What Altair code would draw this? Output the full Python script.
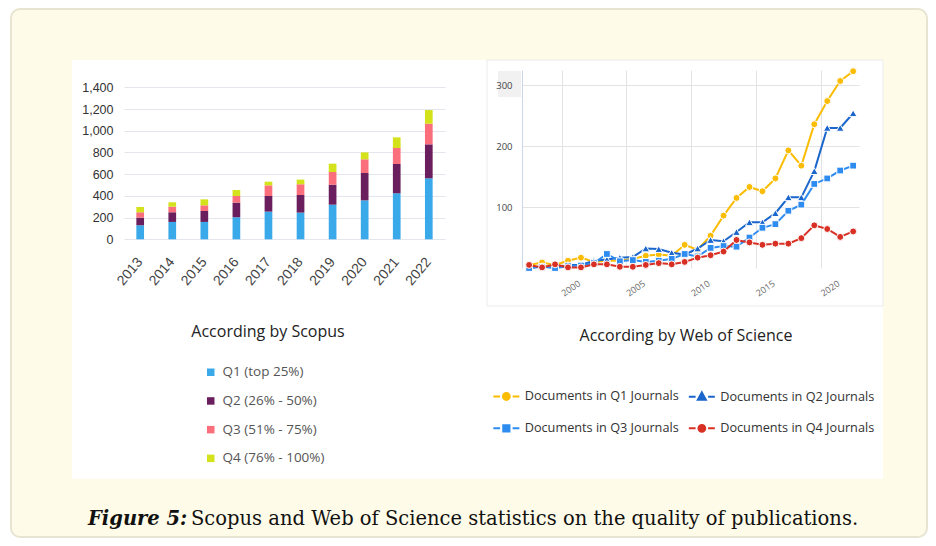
import altair as alt
import pandas as pd

# ---------------- Scopus (left panel) ----------------
scopus_years = ["2013", "2014", "2015", "2016", "2017", "2018", "2019", "2020", "2021", "2022"]
scopus_q1 = [129, 160, 160, 203, 255, 246, 319, 359, 424, 562]
scopus_q2 = [71, 89, 101, 135, 144, 162, 184, 252, 270, 313]
scopus_q3 = [49, 52, 52, 61, 98, 99, 117, 126, 147, 190]
scopus_q4 = [49, 40, 55, 55, 34, 43, 77, 64, 98, 126]
scopus_quartiles = ["Q1 (top 25%)", "Q2 (26% - 50%)", "Q3 (51% - 75%)", "Q4 (76% - 100%)"]
scopus_colors = ["#3aa9e9", "#6a1e5d", "#fb6f7c", "#d3e21b"]
scopus_ticks = [0, 200, 400, 600, 800, 1000, 1200, 1400]

# ---------------- Web of Science (right panel) ----------------
wos_years = list(range(1997, 2023))
wos_q1 = [5, 9, 5, 12, 17, 10, 12, 12, 15, 20, 22, 20, 38, 30, 53, 86, 115, 133, 126, 147, 193, 168, 236, 274, 307, 323]
wos_q2 = [0, 3, 0, 5, 5, 12, 14, 17, 18, 32, 31, 25, 22, 32, 46, 44, 59, 75, 75, 90, 116, 116, 159, 230, 230, 254]
wos_q3 = [0, 2, 0, 3, 4, 8, 23, 11, 13, 10, 12, 15, 23, 19, 33, 36, 35, 50, 66, 72, 94, 104, 138, 147, 160, 168]
wos_q4 = [5, 1, 6, 1, 1, 6, 6, 2, 2, 5, 8, 6, 10, 17, 21, 27, 46, 42, 38, 40, 40, 49, 70, 64, 51, 60]
wos_series = ["Documents in Q1 Journals", "Documents in Q2 Journals",
              "Documents in Q3 Journals", "Documents in Q4 Journals"]
wos_colors = ["#fbbc04", "#1a66cc", "#2e8cf0", "#d93025"]
wos_shapes = ["circle", "triangle-up", "square", "circle"]
wos_sizes = [48, 60, 46, 48]
wos_y_ticks = [100, 200, 300]
wos_x_labels = [2000, 2005, 2010, 2015, 2020]

# legend symbols: line broken by the marker
legend_paths = [
    "M-2.6,0H-1.25M1.25,0H2.6M-0.68,0A0.68,0.68,0,1,1,0.68,0A0.68,0.68,0,1,1,-0.68,0Z",
    "M-2.6,0H-1.25M1.25,0H2.6M0,-0.85L0.8,0.6L-0.8,0.6Z",
    "M-2.6,0H-1.25M1.25,0H2.6M-0.62,-0.62H0.62V0.62H-0.62Z",
    "M-2.6,0H-1.25M1.25,0H2.6M-0.68,0A0.68,0.68,0,1,1,0.68,0A0.68,0.68,0,1,1,-0.68,0Z",
]

AXISFONT = "Liberation Sans"
SANS = "Open Sans"
SERIF = "DejaVu Serif"

# ---------------- tables ----------------
s_rows = []
for k, (name, vals) in enumerate(zip(scopus_quartiles, [scopus_q1, scopus_q2, scopus_q3, scopus_q4])):
    for yr, v in zip(scopus_years, vals):
        s_rows.append({"year": yr, "quartile": name, "rank": k, "value": v})
scopus_df = pd.DataFrame(s_rows)

w_rows = []
for name, vals in zip(wos_series, [wos_q1, wos_q2, wos_q3, wos_q4]):
    for yr, v in zip(wos_years, vals):
        w_rows.append({"year": yr, "series": name, "value": v})
wos_df = pd.DataFrame(w_rows)

one = alt.Data(values=[{}])

# ---------------- decoration cell (drawn first, behind everything) ----------------
frame = alt.Chart(one).mark_rect(fill="#fefbe8", stroke="#e8e4d2", strokeWidth=2, cornerRadius=9).encode(
    x=alt.value(1), x2=alt.value(917), y=alt.value(-61), y2=alt.value(467))
panel = alt.Chart(one).mark_rect(fill="white").encode(
    x=alt.value(62), x2=alt.value(873), y=alt.value(-10), y2=alt.value(409))
wos_box = alt.Chart(one).mark_rect(fill="white", stroke="#ececec", strokeWidth=1).encode(
    x=alt.value(477), x2=alt.value(873), y=alt.value(-10), y2=alt.value(236))
label_box = alt.Chart(one).mark_rect(fill="#f1f1f1").encode(
    x=alt.value(488), x2=alt.value(511), y=alt.value(1), y2=alt.value(27))
title_l = alt.Chart(one).mark_text(text="According by Scopus", font=SANS, fontSize=16, color="#222",
                                   align="center", baseline="middle").encode(x=alt.value(258), y=alt.value(262))
title_r = alt.Chart(one).mark_text(text="According by Web of Science", font=SANS, fontSize=16, color="#222",
                                   align="center", baseline="middle").encode(x=alt.value(676), y=alt.value(266))
cap1 = alt.Chart(one).mark_text(text="Figure 5:", font=SERIF, fontSize=19.5, fontWeight="bold",
                                fontStyle="italic", color="#111", align="left",
                                baseline="alphabetic").encode(x=alt.value(78), y=alt.value(455))
cap2 = alt.Chart(one).mark_text(text="Scopus and Web of Science statistics on the quality of publications.",
                                font=SERIF, fontSize=19.5, color="#111", align="left",
                                baseline="alphabetic").encode(x=alt.value(181), y=alt.value(455))
decor = alt.layer(frame, panel, wos_box, label_box, title_l, title_r, cap1, cap2).properties(width=37, height=1)

# ---------------- left: stacked bars ----------------
left = alt.Chart(scopus_df).mark_bar().encode(
    x=alt.X("year:N", sort=scopus_years,
            scale=alt.Scale(paddingInner=0.76, paddingOuter=0.385),
            axis=alt.Axis(title=None, labelAngle=-50, labelAlign="right", labelBaseline="middle",
                          labelFont=AXISFONT, labelFontSize=14, labelColor="#444", labelPadding=20,
                          ticks=False, domain=False, grid=False)),
    y=alt.Y("value:Q", stack="zero", scale=alt.Scale(domain=[0, 1560], nice=False),
            axis=alt.Axis(title=None, values=scopus_ticks, format=",d", labelFont=AXISFONT,
                          labelFontSize=12.5, labelColor="#333", labelPadding=11, ticks=False,
                          domain=False, gridColor="#e4e6ee")),
    color=alt.Color("quartile:N", scale=alt.Scale(domain=scopus_quartiles, range=scopus_colors),
                    legend=alt.Legend(title=None, orient="none", legendX=194, legendY=295.5,
                                      symbolType="square", symbolSize=56, labelFont=SANS,
                                      labelFontSize=13.5, labelColor="#555", rowPadding=13.7,
                                      labelOffset=5, padding=0)),
    order=alt.Order("rank:Q", sort="ascending"),
).properties(width=321, height=169.3)

# ---------------- right: lines with markers ----------------
xw = alt.X("year:Q", scale=alt.Scale(domain=[1996.45, 2022.45], nice=False, zero=False),
           axis=alt.Axis(title=None, values=[v - 0.5 for v in wos_x_labels],
                         labelExpr="format(datum.value + 0.5, 'd')", labelAngle=-35,
                         labelAlign="center", labelBaseline="middle", labelOffset=9,
                         labelPadding=20, labelFont=SANS, labelFontSize=9, labelColor="#666",
                         ticks=False, domain=False, grid=True, gridColor="#e3e3e3"))
yw = alt.Y("value:Q", scale=alt.Scale(domain=[0, 325], nice=False),
           axis=alt.Axis(title=None, values=wos_y_ticks, labelFont=SANS, labelFontSize=9.5,
                         labelColor="#444", labelPadding=10, ticks=False, domain=True,
                         domainColor="#ccd6eb", gridColor="#e3e3e3"))

base = alt.Chart(wos_df)
layers = []
for name, col, shp, sz in zip(wos_series, wos_colors, wos_shapes, wos_sizes):
    sub = base.transform_filter(alt.datum.series == name)
    layers.append(sub.mark_line(color=col, strokeWidth=2).encode(x=xw, y=yw))
    layers.append(sub.mark_point(shape=shp, filled=True, color=col, size=sz, stroke="white",
                                 strokeWidth=1, opacity=1).encode(x=xw, y=yw))

leg = alt.Legend(title=None, orient="none", legendX=490, legendY=320, columns=2,
                 direction="horizontal", symbolSize=100, symbolStrokeWidth=2, symbolOpacity=1,
                 labelFont=SANS, labelFontSize=12.7, labelColor="#333", labelOffset=12,
                 columnPadding=5.5, rowPadding=16, padding=0)
legend_layer = base.transform_filter("datum.value < 0").mark_point(filled=True, opacity=1).encode(
    x=xw, y=yw,
    shape=alt.Shape("series:N", scale=alt.Scale(domain=wos_series, range=legend_paths), legend=leg),
    fill=alt.Fill("series:N", scale=alt.Scale(domain=wos_series, range=wos_colors), legend=leg),
    stroke=alt.Stroke("series:N", scale=alt.Scale(domain=wos_series, range=wos_colors), legend=leg),
)
layers.append(legend_layer)
right = alt.layer(*layers).properties(width=337, height=198)

chart = alt.hconcat(decor, left, right, spacing=77, bounds="flush",
                    padding={"left": 2, "top": 0, "right": 0, "bottom": 0},
                    background="white").configure_view(strokeWidth=0)

chart.save("out.html", embed_options={"renderer": "svg", "actions": False})
